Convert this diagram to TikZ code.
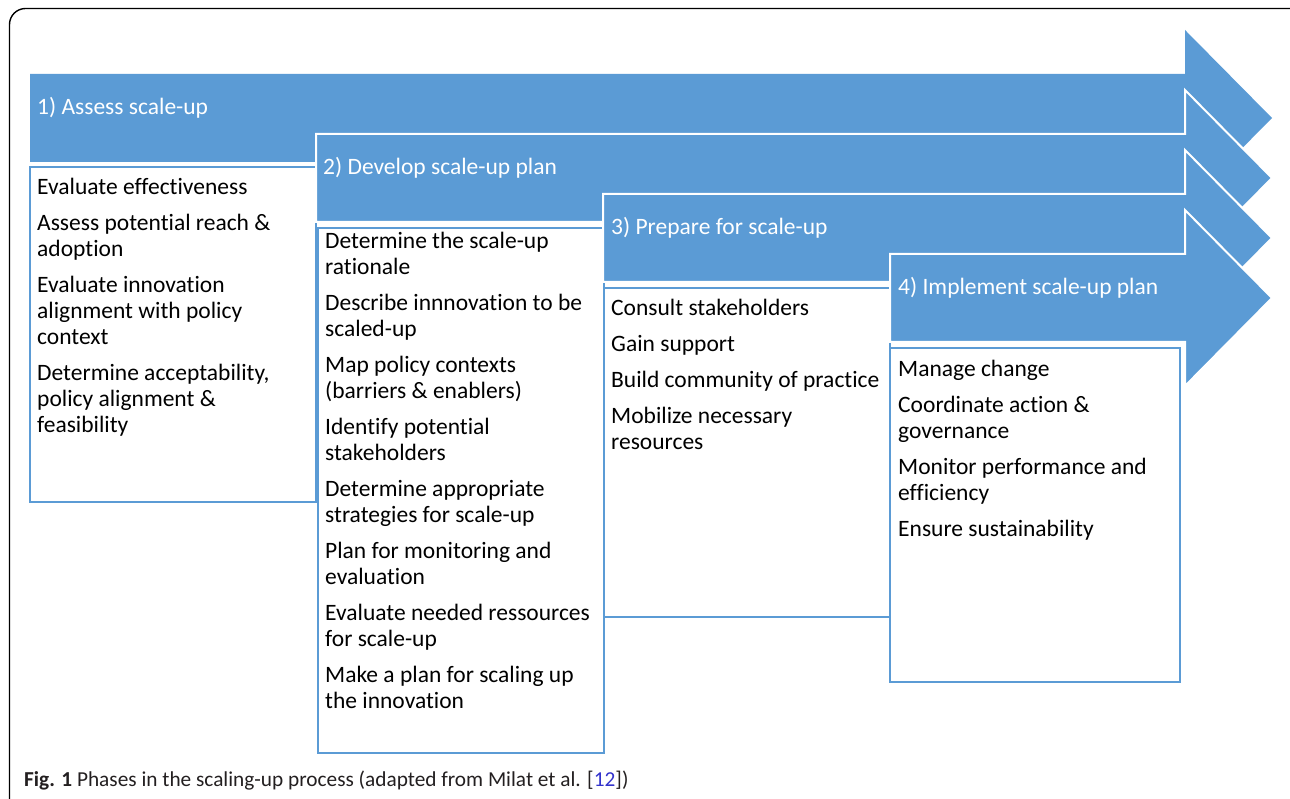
\documentclass[tikz,border=0pt]{standalone}
\usepackage{fontspec}
\setmainfont[Ligatures=NoCommon]{Carlito}
\definecolor{phase}{HTML}{5B9BD5}
\definecolor{refblue}{HTML}{3333CC}
\definecolor{captiongray}{HTML}{231F20}

% Block arrow: left x, centre y (body half-height 44, head half-height 88)
\newcommand\phaseshape[2]{%
  (#1,#2-44) -- (1185,#2-44) -- (1185,#2-88) -- (1272,#2)
  -- (1185,#2+88) -- (1185,#2+44) -- (#1,#2+44) -- cycle}

\begin{document}
\begin{tikzpicture}[x=1pt,y=-1pt,
  phasearrow/.style={fill=phase, draw=white, line width=2pt, line join=miter},
  taskbox/.style={fill=white, draw=phase, line width=2.8pt},
  phaselabel/.style={anchor=base west, inner sep=0pt, text=white,
    font=\fontsize{23.5}{26}\selectfont},
  tasklist/.style={anchor=north west, inner sep=0pt, align=left,
    font=\fontsize{23.5}{26}\selectfont}]

\useasboundingbox (0,0) rectangle (1290,799);

% outer frame, cut by the page edge
\begin{scope}
  \clip (0,0) rectangle (1290,799);
  \draw[line width=1.4pt, rounded corners=16pt] (9.5,8.5) rectangle (1306,816);
\end{scope}

% phase 1  (strut height 18.2 sets the first baseline below the node top)
\fill[phasearrow, draw=none] \phaseshape{30}{118};
\node[phaselabel] (p1) at (37,115) {1) Assess scale-up};
\draw[taskbox] (30,167) rectangle (316,502);
\node[tasklist] (t1) at (37,175.8) {\strut Evaluate effectiveness\\[10pt]
  Assess potential reach \&\\adoption\\[10pt]
  Evaluate innovation\\alignment with policy\\context\\[10pt]
  Determine acceptability,\\policy alignment \&\\feasibility};

% phase 2
\filldraw[phasearrow] \phaseshape{316}{178};
\node[phaselabel] (p2) at (323,175) {2) Develop scale-up plan};
\draw[taskbox] (318,228) rectangle (604,753);
\node[tasklist] (t2) at (325,229.8) {\strut Determine the scale-up\\rationale\\[10pt]
  Describe innnovation to be\\scaled-up\\[10pt]
  Map policy contexts\\(barriers \& enablers)\\[10pt]
  Identify potential\\stakeholders\\[10pt]
  Determine appropriate\\strategies for scale-up\\[10pt]
  Plan for monitoring and\\evaluation\\[10pt]
  Evaluate needed ressources\\for scale-up\\[10pt]
  Make a plan for scaling up\\the innovation};

% phase 3
\filldraw[phasearrow] \phaseshape{603}{238};
\node[phaselabel] (p3) at (611,235) {3) Prepare for scale-up};
\draw[taskbox] (604,288) rectangle (890,617);
\node[tasklist] (t3) at (611,296.8) {\strut Consult stakeholders\\[10pt]
  Gain support\\[10pt]
  Build community of practice\\[10pt]
  Mobilize necessary\\resources};

% phase 4
\filldraw[phasearrow] \phaseshape{890}{298};
\node[phaselabel] (p4) at (898,295) {4) Implement scale-up plan};
\draw[taskbox] (890,348) rectangle (1180,682);
\node[tasklist] (t4) at (898,357.8) {\strut Manage change\\[10pt]
  Coordinate action \&\\governance\\[10pt]
  Monitor performance and\\efficiency\\[10pt]
  Ensure sustainability};

% caption
\node[anchor=base west, inner sep=0pt, text=captiongray,
  font=\fontsize{21.3}{24}\selectfont] (cap) at (24,786)
  {\textbf{Fig. 1} Phases in the scaling-up process (adapted from Milat et al. [\textcolor{refblue}{12}])};
\end{tikzpicture}
\end{document}
